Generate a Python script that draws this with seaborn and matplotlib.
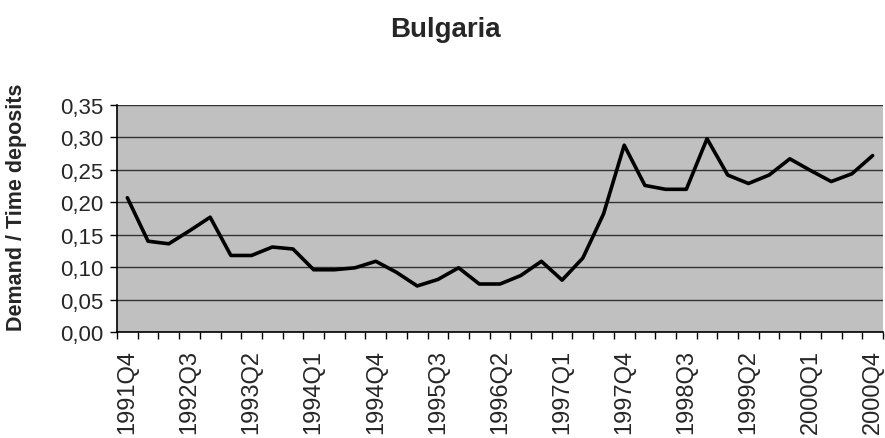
import matplotlib
matplotlib.use("Agg")
import matplotlib.pyplot as plt
import seaborn as sns
import pandas as pd
import numpy as np
from matplotlib.ticker import FuncFormatter, FixedLocator

quarters = [f"{y}Q{q}" for y in range(1991, 2001) for q in range(1, 5)][3:]
values = [0.207, 0.140, 0.136, 0.156, 0.177, 0.118, 0.118, 0.131, 0.128, 0.096,
          0.096, 0.099, 0.109, 0.092, 0.071, 0.081, 0.099, 0.074, 0.074, 0.087,
          0.109, 0.080, 0.114, 0.182, 0.288, 0.226, 0.220, 0.220, 0.298, 0.242,
          0.229, 0.242, 0.267, 0.249, 0.232, 0.244, 0.272]
title = "Bulgaria"
ylabel = "Demand / Time deposits"

df = pd.DataFrame({"idx": np.arange(len(quarters)), "quarter": quarters, "value": values})

sns.set_style("white")
plt.rcParams['font.family'] = ['Liberation Sans', 'DejaVu Sans']

fig = plt.figure(figsize=(8.85, 4.39), dpi=100)
ax = fig.add_axes([117/885, 1-333/439, (883-117)/885, (333-106)/439])
ax.set_facecolor("#C0C0C0")

sns.lineplot(data=df, x="idx", y="value", ax=ax, color="black", linewidth=2.6)

ax.set_xlim(-0.5, len(quarters) - 0.5)
ax.set_ylim(0, 0.35)
ax.set_yticks(np.arange(0, 0.351, 0.05))
ax.yaxis.set_major_formatter(FuncFormatter(lambda v, p: f"{v:.2f}".replace(".", ",")))
ax.grid(axis="y", color="#333333", linewidth=1.0)
ax.set_axisbelow(True)

major_pos = list(range(0, len(quarters), 3))
ax.set_xticks(major_pos)
ax.set_xticklabels([quarters[i] for i in major_pos], rotation=90)
ax.xaxis.set_minor_locator(FixedLocator(np.arange(-0.5, len(quarters), 1.0)))
ax.tick_params(axis="x", which="major", length=0, labelsize=17, pad=12)
ax.tick_params(axis="x", which="minor", length=5, width=1, color="black", direction="out", bottom=True)
ax.tick_params(axis="y", length=5, width=1, color="black", direction="out", labelsize=16, left=True, pad=5)

for s in ["top", "right"]:
    ax.spines[s].set_visible(False)
for s in ["left", "bottom"]:
    ax.spines[s].set_color("black")
    ax.spines[s].set_linewidth(1.2)

ax.set_xlabel("")
ax.set_ylabel("")
fig.text(17/885, 1-207/439, ylabel, rotation=90, ha="center", va="center",
         fontsize=15.5, fontweight="bold")
fig.text(445/885, 1-30/439, title, ha="center", va="center", fontsize=20, fontweight="bold")

fig.savefig("out.png", dpi=100)
